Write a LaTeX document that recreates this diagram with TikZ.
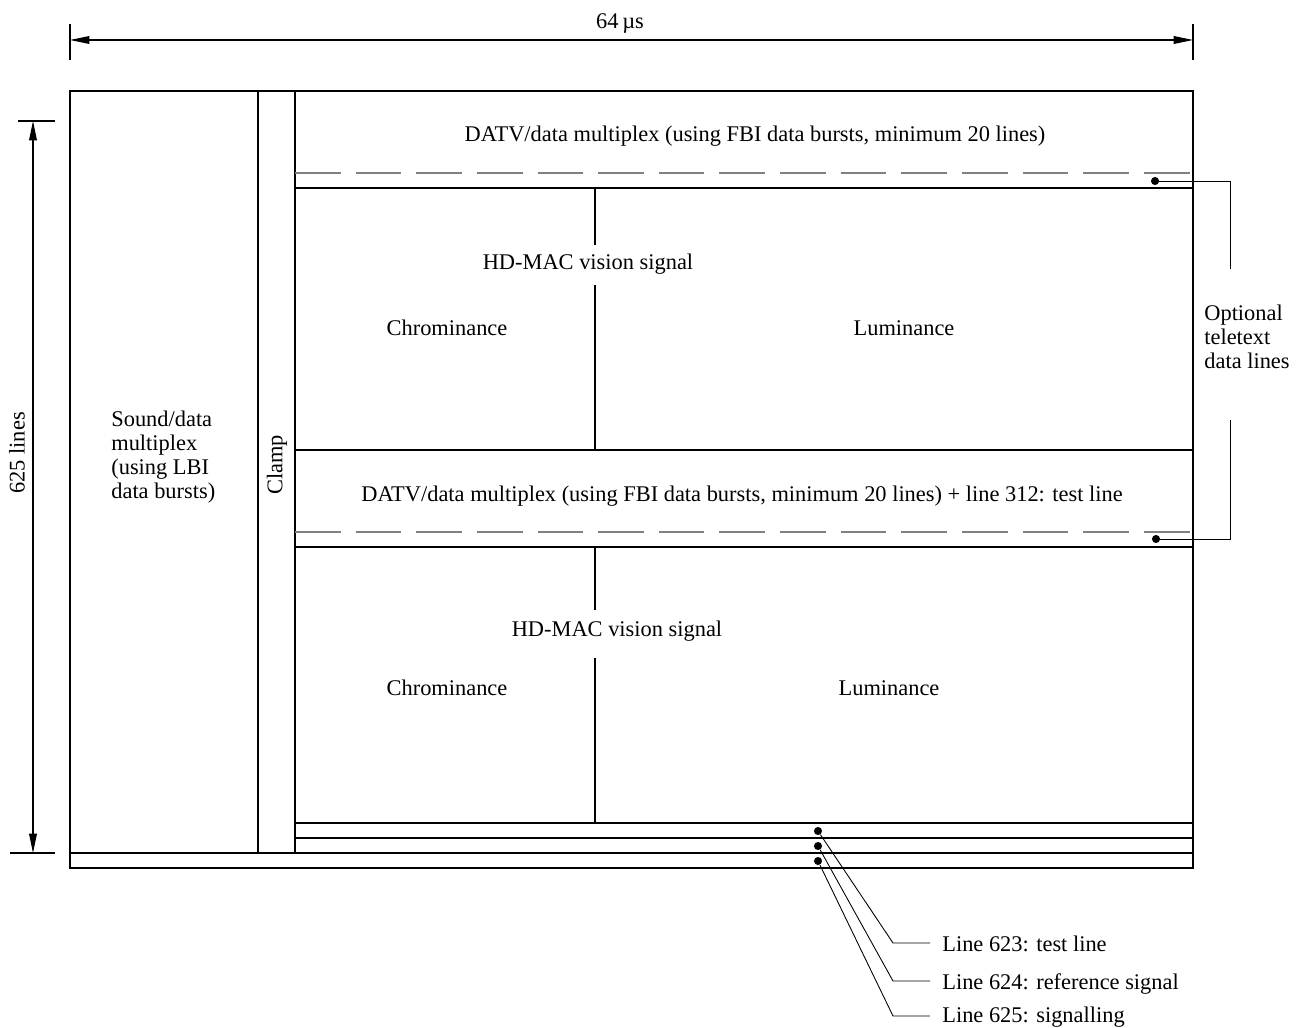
\documentclass[tikz,border=0pt]{standalone}
\usepackage{fontspec}
\setmainfont{Liberation Serif}
\usetikzlibrary{arrows.meta}

\begin{document}
\begin{tikzpicture}[x=0.2mm,y=-0.2mm,
	txt/.style={font=\fontsize{12.75pt}{13.6pt}\selectfont,inner sep=0pt},
	bar/.style={line width=1.1pt},
	frame/.style={line width=0.6pt},
	lead/.style={line width=0.5pt},
	tele/.style={gray,line width=0.9pt,dash pattern=on 26pt off 8.5pt},
	dimarrow/.style={line width=0.6pt,{Triangle[length=11pt,width=4.4pt]}-{Triangle[length=11pt,width=4.4pt]}},
	dot/.style={circle,fill,inner sep=0pt,minimum size=4.6pt}]
				 \useasboundingbox (0,0) rectangle (1304,1028);
				 % \draw[color=gray,step=50,help lines,opacity=0.3] (0,0) grid (1304,1028); %help grids
				 % frame of one line period
				 \draw[frame] (70,91) rectangle (1193,868);
				 \draw[bar] (70,853)--(1193,853);
				 \draw[bar] (258,91)--(258,853);
				 \draw[bar] (295,91)--(295,853);
				 \draw[bar] (295,188)--(1193,188);
				 \draw[bar] (295,450)--(1193,450);
				 \draw[bar] (295,547)--(1193,547);
				 \draw[bar] (295,823)--(1193,823);
				 \draw[bar] (295,838)--(1193,838);
				 \draw[tele] (295,173)--(1193,173);
				 \draw[tele] (295,532)--(1193,532);
				 \draw[bar] (595,188)--(595,245);
				 \draw[bar] (595,285)--(595,450);
				 \draw[bar] (595,547)--(595,610);
				 \draw[bar] (595,658)--(595,823);
				 % texts in the frame
				 \node[txt,anchor=base] (datv1) at (755,142) {DATV/data multiplex (using FBI data bursts, minimum 20 lines)};
				 \node[txt,anchor=base] (hdmac1) at (588,270) {HD-MAC vision signal};
				 \node[txt,anchor=base] (chrom1) at (447,336) {Chrominance};
				 \node[txt,anchor=base] (lum1) at (904,336) {Luminance};
				 \node[txt,anchor=base] (datv2) at (742,501) {DATV/data multiplex (using FBI data bursts, minimum 20 lines) + line 312: test line};
				 \node[txt,anchor=base] (hdmac2) at (617,636) {HD-MAC vision signal};
				 \node[txt,anchor=base] (chrom2) at (447,695) {Chrominance};
				 \node[txt,anchor=base] (lum2) at (889,695) {Luminance};
				 \node[txt,align=left,anchor=west] (sound) at (111,457) {Sound/data\\multiplex\\(using LBI\\data bursts)};
				 \node[txt,rotate=90] (clamp) at (277,465) {Clamp};
				 % dimensions
				 \coordinate (wl) at (70,40);
				 \coordinate (wr) at (1193,40);
				 \draw[frame] (70,24)--(70,60);
				 \draw[frame] (1193,24)--(1193,60);
				 \draw[dimarrow] (wl)--(wr);
				 \node[txt,anchor=base] (period) at (620,29) {64\,µs};
				 \coordinate (ht) at (33,121);
				 \coordinate (hb) at (33,853);
				 \draw[frame] (18,121)--(55,121);
				 \draw[frame] (10,853)--(55,853);
				 \draw[dimarrow] (ht)--(hb);
				 \node[txt,rotate=90] (lines) at (17,453) {625 lines};
				 % teletext lines
				 \node[dot] (tt1) at (1155,181) {};
				 \node[dot] (tt2) at (1156,539) {};
				 \node[txt,align=left,anchor=west] (opt) at (1204,337) {Optional\\teletext\\data lines};
				 \coordinate (o1) at (1230,269);
				 \coordinate (o2) at (1230,420);
				 \draw[lead] (tt1) -| (o1);
				 \draw[lead] (tt2) -| (o2);
				 % lines 623 to 625
				 \node[dot] (d623) at (818,831) {};
				 \node[dot] (d624) at (818,846) {};
				 \node[dot] (d625) at (818,861) {};
				 \node[txt,anchor=base west] (l623) at (942,951) {Line 623: test line};
				 \node[txt,anchor=base west] (l624) at (942,989) {Line 624: reference signal};
				 \node[txt,anchor=base west] (l625) at (942,1022) {Line 625: signalling};
				 \coordinate (e623) at (930,943);
				 \coordinate (e624) at (930,981);
				 \coordinate (e625) at (930,1016);
				 \draw[lead] (d623)--(893,943)--(e623);
				 \draw[lead] (d624)--(893,981)--(e624);
				 \draw[lead] (d625)--(893,1016)--(e625);
\end{tikzpicture}
\end{document}
